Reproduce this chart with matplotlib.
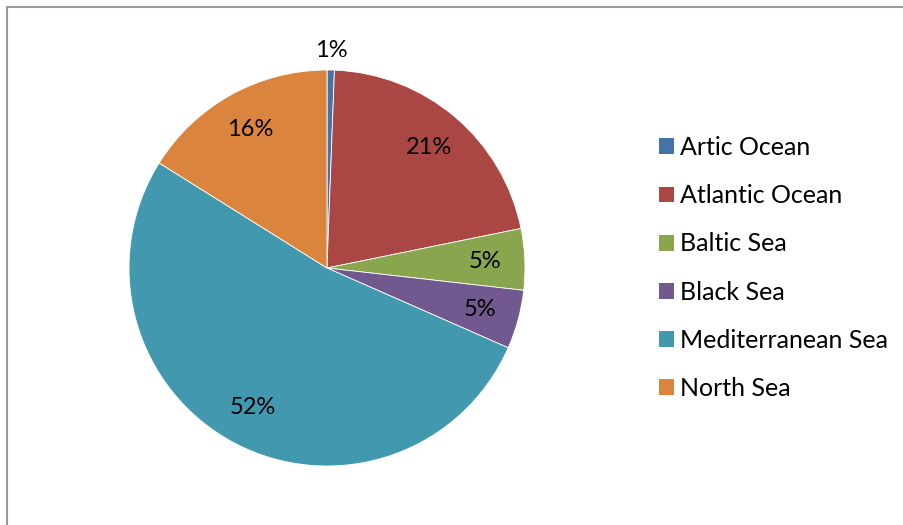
import matplotlib.pyplot as plt
from matplotlib.patches import Rectangle, Patch
import numpy as np

# fish catch share by sea
seas = ['Artic Ocean', 'Atlantic Ocean', 'Baltic Sea', 'Black Sea',
        'Mediterranean Sea', 'North Sea']
share = [0.6, 21.2, 5.0, 4.8, 52.3, 16.1]
colors = ['#4572A7', '#AA4643', '#89A54E', '#71588F', '#4198AF', '#DB843D']

plt.rcParams['font.family'] = ['Lato', 'DejaVu Sans']
W, H = 904, 525
fs = 17
lfs = 18

fig = plt.figure(figsize=(W / 100, H / 100), dpi=100)
ax = fig.add_axes([0, 0, 1, 1])

cx, cy, R = 327, H - 268, 198
wedges, texts, autotexts = ax.pie(share, colors=colors, startangle=90,
                                  counterclock=False, center=(cx, cy),
                                  radius=R, autopct='%.0f%%',
                                  pctdistance=0.8, frame=True,
                                  wedgeprops=dict(edgecolor='white', linewidth=0.6),
                                  textprops=dict(fontsize=fs, color='black'))
ax.set_xlim(0, W)
ax.set_ylim(0, H)
ax.axis('off')

# the tiny slice gets its label outside the pie
w = wedges[0]
mid = np.deg2rad((w.theta1 + w.theta2) / 2)
autotexts[0].set_position((cx + 1.1 * R * np.cos(mid), cy + 1.1 * R * np.sin(mid)))

handles = [Patch(facecolor=c, edgecolor='none') for c in colors]
lfs_px = lfs * 100 / 72
leg = fig.legend(handles, seas, loc='center left',
                 bbox_to_anchor=(659 / W, 1 - 268 / H),
                 frameon=False, fontsize=lfs, borderpad=0, borderaxespad=0,
                 handlelength=15 / lfs_px, handleheight=15 / lfs_px,
                 handletextpad=6 / lfs_px, labelspacing=1.005)

# chart border
fig.patches.append(Rectangle((7 / W, -0.1), 1.2, 1 - 7 / H + 0.1,
                             transform=fig.transFigure, fill=False,
                             edgecolor='#999999', linewidth=1.5))

fig.savefig('out.png', dpi=100)
